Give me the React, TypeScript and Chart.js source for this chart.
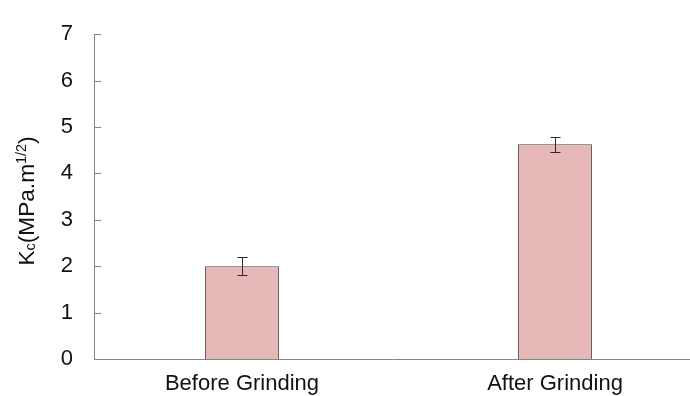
import React, { useEffect, useRef } from "react";
import { Chart, registerables } from "chart.js";

Chart.register(...registerables);

const categories = ["Before Grinding", "After Grinding"];
const kcValues = [2.0, 4.63];
const kcErrors = [0.2, 0.16];
const yTicks = [0, 1, 2, 3, 4, 5, 6, 7];

const FONT = "'Liberation Sans', Arial, sans-serif";
const AXIS_COLOR = "#858585";

const yTitlePlugin = {
  id: "yTitle",
  afterDraw(chart: any) {
    const ctx = chart.ctx;
    const parts = [
      { t: "K", size: 22, dy: 0 },
      { t: "c", size: 14, dy: 1 },
      { t: "(MPa.m", size: 22, dy: 0 },
      { t: "1/2", size: 14, dy: -8 },
      { t: ")", size: 22, dy: 0 },
    ];
    ctx.save();
    let total = 0;
    const widths = parts.map((p) => {
      ctx.font = `${p.size}px ${FONT}`;
      const w = ctx.measureText(p.t).width;
      total += w;
      return w;
    });
    const stretch = 1.03;
    const cx = 34;
    const cy = 201;
    ctx.translate(cx, cy);
    ctx.rotate(-Math.PI / 2);
    ctx.scale(stretch, 1);
    ctx.fillStyle = "#111";
    ctx.textBaseline = "alphabetic";
    ctx.textAlign = "left";
    let u = -total / 2;
    parts.forEach((p, i) => {
      ctx.font = `${p.size}px ${FONT}`;
      ctx.fillText(p.t, u, p.dy);
      u += widths[i];
    });
    ctx.restore();
  },
};

const innerTicksPlugin = {
  id: "innerTicks",
  afterDraw(chart: any) {
    const ctx = chart.ctx;
    const y = chart.scales.y;
    const left = chart.chartArea.left;
    ctx.save();
    ctx.strokeStyle = AXIS_COLOR;
    ctx.lineWidth = 1;
    yTicks.forEach((v) => {
      const py = Math.round(y.getPixelForValue(v)) + 0.5;
      ctx.beginPath();
      ctx.moveTo(left, py);
      ctx.lineTo(left + 7, py);
      ctx.stroke();
    });
    ctx.restore();
  },
};

const errorBarPlugin = {
  id: "errorBars",
  afterDatasetsDraw(chart: any) {
    const ctx = chart.ctx;
    const y = chart.scales.y;
    const meta = chart.getDatasetMeta(0);
    ctx.save();
    ctx.strokeStyle = "#2a2a2a";
    ctx.lineWidth = 1;
    meta.data.forEach((el: any, i: number) => {
      const x = Math.round(el.x) + 0.5;
      const yTop = Math.round(y.getPixelForValue(kcValues[i] + kcErrors[i])) + 0.5;
      const yBot = Math.round(y.getPixelForValue(kcValues[i] - kcErrors[i])) + 0.5;
      ctx.beginPath();
      ctx.moveTo(x, yTop);
      ctx.lineTo(x, yBot);
      ctx.moveTo(x - 5, yTop);
      ctx.lineTo(x + 5, yTop);
      ctx.moveTo(x - 5, yBot);
      ctx.lineTo(x + 5, yBot);
      ctx.stroke();
    });
    ctx.restore();
  },
};

export default function App() {
  const canvasRef = useRef<HTMLCanvasElement | null>(null);

  useEffect(() => {
    document.body.style.margin = "0";
    const canvas = canvasRef.current;
    if (!canvas) return;
    const chart = new Chart(canvas, {
      type: "bar",
      data: {
        datasets: [
          {
            data: kcValues.map((v, i) => ({ x: i, y: v })),
            backgroundColor: "#e6b8b7",
            borderColor: "#504848",
            borderWidth: 1,
            borderSkipped: "bottom",
            categoryPercentage: 1,
            barPercentage: 0.236,
          },
        ],
      },
      options: {
        responsive: false,
        animation: false,
        devicePixelRatio: 1,
        layout: { padding: { top: 24, right: 0, bottom: 0, left: 0 } },
        plugins: {
          legend: { display: false },
          tooltip: { enabled: false },
          title: { display: false },
        },
        scales: {
          x: {
            type: "linear",
            offset: false,
            min: -0.4728,
            max: 1.4313,
            grid: { display: false, drawTicks: false, offset: false },
            border: { display: true, color: AXIS_COLOR, width: 1 },
            afterBuildTicks: (scale: any) => {
              scale.ticks = categories.map((_, i) => ({ value: i }));
            },
            afterFit: (scale: any) => {
              scale.height = 37;
            },
            ticks: {
              padding: 12,
              color: "#111",
              font: { family: FONT, size: 22 },
              maxRotation: 0,
              autoSkip: false,
              callback: (v: any) => categories[v] ?? "",
            },
          },
          y: {
            min: 0,
            max: 7,
            grid: { display: false, drawTicks: false },
            border: { display: true, color: AXIS_COLOR, width: 1 },
            afterBuildTicks: (scale: any) => {
              scale.ticks = yTicks.map((v) => ({ value: v }));
            },
            afterFit: (scale: any) => {
              scale.width = 94;
            },
            ticks: {
              padding: 21,
              color: "#111",
              font: { family: FONT, size: 22 },
              callback: (v: any) => String(v),
            },
          },
        },
      },
      plugins: [yTitlePlugin, innerTicksPlugin, errorBarPlugin],
    } as any);
    return () => chart.destroy();
  }, []);

  return (
    <div style={{ width: 690, height: 396 }}>
      <canvas ref={canvasRef} width={690} height={396} />
    </div>
  );
}
